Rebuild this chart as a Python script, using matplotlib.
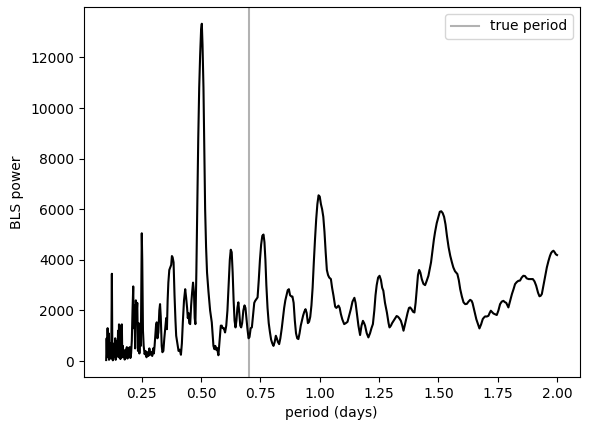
import matplotlib
matplotlib.use("Agg")
import matplotlib.pyplot as plt
import numpy as np

# values
period = [
    0.100, 0.102, 0.104, 0.106, 0.108, 0.110, 0.112, 0.114, 0.116, 0.118,
    0.120, 0.122, 0.124, 0.126, 0.128, 0.130, 0.132, 0.134, 0.136, 0.138,
    0.140, 0.142, 0.144, 0.146, 0.148, 0.150, 0.152, 0.154, 0.156, 0.158,
    0.160, 0.162, 0.164, 0.166, 0.168, 0.170, 0.172, 0.175, 0.178, 0.181,
    0.184, 0.187, 0.190, 0.193, 0.196, 0.199, 0.202, 0.205, 0.208, 0.211,
    0.214, 0.216, 0.219, 0.222, 0.225, 0.228, 0.231, 0.234, 0.237, 0.240,
    0.243, 0.246, 0.250, 0.252, 0.255, 0.258, 0.262, 0.266, 0.270, 0.274,
    0.278, 0.282, 0.286, 0.290, 0.294, 0.298, 0.301, 0.304, 0.307, 0.310,
    0.313, 0.316, 0.320, 0.324, 0.327, 0.330, 0.334, 0.337, 0.341, 0.345,
    0.350, 0.353, 0.356, 0.359, 0.362, 0.366, 0.370, 0.374, 0.377, 0.380,
    0.384, 0.388, 0.392, 0.395, 0.400, 0.405, 0.410, 0.415, 0.419, 0.423,
    0.428, 0.433, 0.437, 0.441, 0.444, 0.447, 0.450, 0.454, 0.458, 0.462,
    0.466, 0.470, 0.473, 0.476, 0.480, 0.484, 0.488, 0.492, 0.496, 0.500,
    0.503, 0.506, 0.510, 0.514, 0.517, 0.521, 0.525, 0.531, 0.538, 0.545,
    0.549, 0.552, 0.556, 0.560, 0.563, 0.567, 0.573, 0.578, 0.583, 0.587,
    0.591, 0.596, 0.601, 0.606, 0.611, 0.616, 0.621, 0.625, 0.629, 0.633,
    0.637, 0.641, 0.645, 0.649, 0.653, 0.657, 0.661, 0.665, 0.669, 0.673,
    0.678, 0.683, 0.687, 0.691, 0.695, 0.700, 0.704, 0.709, 0.714, 0.719,
    0.724, 0.728, 0.733, 0.738, 0.743, 0.748, 0.753, 0.758, 0.763, 0.767,
    0.771, 0.775, 0.780, 0.785, 0.790, 0.795, 0.800, 0.805, 0.810, 0.815,
    0.819, 0.824, 0.829, 0.834, 0.840, 0.845, 0.850, 0.855, 0.860, 0.865,
    0.870, 0.875, 0.880, 0.885, 0.890, 0.895, 0.900, 0.905, 0.910, 0.915,
    0.920, 0.925, 0.930, 0.935, 0.940, 0.945, 0.950, 0.955, 0.960, 0.965,
    0.970, 0.975, 0.980, 0.985, 0.990, 0.995, 1.000, 1.005, 1.010, 1.015,
    1.020, 1.025, 1.030, 1.035, 1.040, 1.047, 1.052, 1.058, 1.065, 1.070,
    1.075, 1.079, 1.084, 1.089, 1.095, 1.103, 1.110, 1.117, 1.124, 1.131,
    1.138, 1.146, 1.151, 1.156, 1.163, 1.170, 1.176, 1.182, 1.187, 1.191,
    1.198, 1.205, 1.212, 1.218, 1.224, 1.230, 1.235, 1.240, 1.246, 1.252,
    1.258, 1.263, 1.268, 1.275, 1.283, 1.290, 1.294, 1.300, 1.305, 1.311,
    1.318, 1.324, 1.330, 1.336, 1.342, 1.348, 1.353, 1.358, 1.364, 1.370,
    1.376, 1.381, 1.387, 1.393, 1.399, 1.404, 1.409, 1.414, 1.419, 1.424,
    1.430, 1.437, 1.444, 1.450, 1.458, 1.464, 1.469, 1.475, 1.481, 1.486,
    1.493, 1.500, 1.506, 1.512, 1.518, 1.524, 1.530, 1.536, 1.543, 1.550,
    1.557, 1.563, 1.570, 1.580, 1.586, 1.592, 1.599, 1.606, 1.613, 1.620,
    1.627, 1.634, 1.640, 1.644, 1.650, 1.655, 1.660, 1.667, 1.673, 1.680,
    1.687, 1.692, 1.697, 1.704, 1.711, 1.716, 1.721, 1.727, 1.732, 1.739,
    1.746, 1.753, 1.760, 1.767, 1.774, 1.780, 1.786, 1.795, 1.803, 1.810,
    1.817, 1.823, 1.830, 1.837, 1.844, 1.851, 1.858, 1.865, 1.872, 1.880,
    1.890, 1.898, 1.905, 1.912, 1.920, 1.926, 1.931, 1.936, 1.943, 1.950,
    1.957, 1.964, 1.970, 1.975, 1.980, 1.985, 1.990, 1.995, 2.000,
]
power = [
    40, 900, 150, 1300, 300, 1100, 50, 600, 200, 700,
    100, 1000, 3450, 250, 30, 500, 150, 700, 200, 900,
    50, 600, 200, 800, 250, 1200, 150, 1450, 350, 900,
    80, 1400, 400, 1450, 150, 600, 250, 400, 60, 450,
    150, 550, 100, 500, 200, 550, 120, 300, 800, 2000,
    2950, 1300, 2200, 500, 2400, 1800, 2300, 400, 1500, 300,
    1200, 600, 5050, 4000, 1200, 600, 270, 400, 150, 350,
    200, 500, 250, 350, 200, 500, 300, 600, 1000, 1400,
    1530, 900, 1140, 2000, 2250, 1750, 600, 350, 400, 900,
    1400, 1700, 1260, 2400, 3100, 3600, 3700, 3800, 4150, 4100,
    3900, 2600, 1600, 1000, 700, 400, 450, 250, 700, 1530,
    2400, 2840, 2500, 2100, 1700, 1900, 1500, 1460, 2200, 2700,
    3100, 2700, 1700, 1460, 3500, 6200, 8800, 10800, 12100, 13100,
    13330, 12500, 10800, 8000, 6000, 4500, 3500, 2750, 2000, 1530,
    1000, 600, 470, 600, 450, 520, 230, 800, 1400, 1400,
    1300, 1300, 1130, 1400, 2000, 3000, 4000, 4400, 4300, 3500,
    2400, 1600, 1330, 1600, 2100, 2320, 1900, 1400, 1330, 1500,
    2000, 2200, 2100, 1700, 1300, 900, 950, 1300, 1330, 1800,
    2300, 2380, 2450, 2515, 3200, 4000, 4600, 4950, 5000, 4700,
    4000, 3000, 2100, 1500, 1150, 850, 700, 600, 750, 1000,
    900, 750, 670, 900, 1300, 1700, 2100, 2400, 2600, 2800,
    2840, 2600, 2560, 2550, 2300, 1600, 1100, 900, 870, 1100,
    1400, 1600, 1800, 1950, 2050, 1900, 1500, 1550, 1750, 2200,
    2900, 3900, 4800, 5600, 6200, 6550, 6500, 6200, 6000, 5700,
    5100, 4300, 3600, 3400, 3300, 3240, 2900, 2580, 2150, 2100,
    2150, 2190, 2100, 1860, 1650, 1460, 1500, 1550, 1800, 2050,
    2350, 2500, 2300, 1920, 1400, 1030, 1400, 1590, 1500, 1400,
    1100, 935, 1100, 1300, 1460, 2000, 2600, 3000, 3300, 3370,
    3200, 2900, 2780, 2300, 1920, 1500, 1330, 1400, 1500, 1590,
    1700, 1780, 1750, 1680, 1590, 1400, 1200, 1400, 1660, 1900,
    2100, 2120, 2050, 1950, 1920, 2300, 2840, 3400, 3600, 3500,
    3240, 3050, 3000, 3150, 3370, 3650, 3900, 4350, 4800, 5100,
    5450, 5700, 5900, 5920, 5850, 5700, 5400, 4950, 4500, 4160,
    3900, 3700, 3550, 3440, 3200, 2840, 2550, 2320, 2250, 2260,
    2350, 2420, 2380, 2290, 2050, 1860, 1650, 1450, 1290, 1450,
    1660, 1720, 1765, 1760, 1790, 1900, 1990, 1930, 1880, 1850,
    1820, 2000, 2250, 2350, 2380, 2330, 2300, 2120, 2400, 2650,
    2850, 3040, 3120, 3170, 3180, 3300, 3370, 3360, 3270, 3240,
    3240, 3240, 3150, 2980, 2700, 2560, 2580, 2650, 3000, 3370,
    3700, 3960, 4150, 4270, 4330, 4360, 4300, 4220, 4190,
]
true_period = 0.7

fig = plt.figure(figsize=(5.89, 4.32), dpi=100)
ax = fig.add_subplot(1, 1, 1)
fig.subplots_adjust(left=0.142, right=0.984, bottom=0.127, top=0.984)

ax.axvline(true_period, color='k', alpha=0.3, label='true period')
ax.plot(np.array(period), np.array(power), 'k')
ax.legend(loc='upper right')
ax.set_xlabel('period (days)')
ax.set_ylabel('BLS power')

fig.savefig('out.png', dpi=100)
